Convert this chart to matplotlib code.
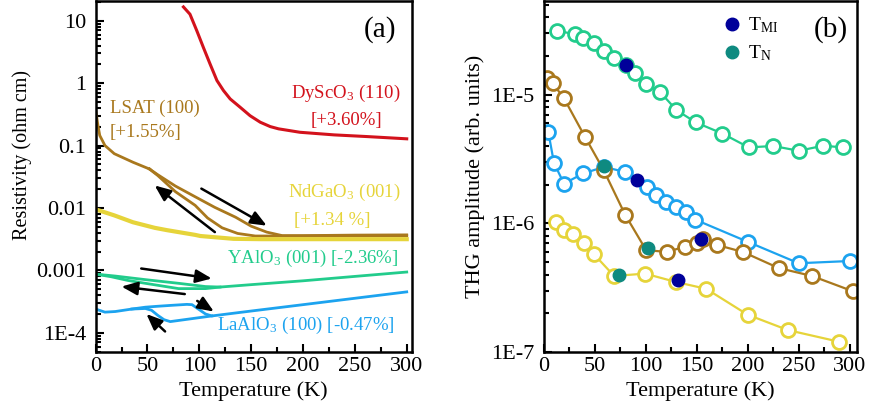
import numpy as np
import matplotlib
matplotlib.use("Agg")
import matplotlib.pyplot as plt

plt.rcParams['font.family'] = ['Liberation Serif', 'DejaVu Serif']
plt.rcParams['mathtext.fontset'] = 'stix'
plt.rcParams['font.size'] = 16

# ---------------- panel (a): resistivity vs temperature ----------------
dysco_T = [84.7, 91, 97.6, 104, 110.4, 117, 123.3, 129.8, 139.4, 149, 158.8, 168.4, 176.4, 197, 230, 262, 300]
dysco_rho = [16.6, 12.7, 6.9, 3.7, 2.02, 1.10, 0.76, 0.557, 0.41, 0.30, 0.236, 0.201, 0.185,
             0.163, 0.148, 0.139, 0.128]

lsat_T_low = [0, 2, 4, 9, 18, 36, 52]
lsat_rho_low = [0.38, 0.224, 0.145, 0.1, 0.074, 0.054, 0.042]
lsat_T_warm = [52, 60, 77, 96, 115, 135, 150, 165, 180, 200, 250, 300]
lsat_rho_warm = [0.042, 0.034, 0.0224, 0.0151, 0.0102, 0.0071, 0.0051, 0.0041, 0.0036, 0.0036, 0.00367, 0.0037]
lsat_T_cool = [52, 60, 77, 96, 108, 122, 137, 154, 180, 300]
lsat_rho_cool = [0.042, 0.033, 0.0182, 0.011, 0.0069, 0.0048, 0.0039, 0.00355, 0.00355, 0.0036]

ndgao_T = [0, 18, 36, 57, 69, 96, 101, 133, 160, 200, 300]
ndgao_rho = [0.0095, 0.0076, 0.0059, 0.0048, 0.0044, 0.0037, 0.00355, 0.0032, 0.00316, 0.00316, 0.00316]

yalo_T_warm = [0, 19, 48, 80, 106, 120, 150, 200, 250, 300]
yalo_rho_warm = [8.7e-4, 8.1e-4, 7.1e-4, 6.2e-4, 5.5e-4, 5.4e-4, 5.9e-4, 6.8e-4, 8.0e-4, 9.4e-4]
yalo_T_cool = [0, 15, 31, 48, 80, 106, 120]
yalo_rho_cool = [8.7e-4, 7.9e-4, 6.9e-4, 6.2e-4, 5.1e-4, 5.1e-4, 5.4e-4]

laalo_T_warm = [0, 9, 19, 35, 48, 60, 73, 88, 93, 100, 106, 112, 150, 200, 250, 300]
laalo_rho_warm = [2.4e-4, 2.14e-4, 2.19e-4, 2.4e-4, 2.57e-4, 2.66e-4, 2.75e-4, 2.85e-4, 2.82e-4,
                  2.34e-4, 2.0e-4, 1.86e-4, 2.23e-4, 2.82e-4, 3.57e-4, 4.52e-4]
laalo_T_cool = [35, 48, 54, 60, 66, 72, 112]
laalo_rho_cool = [2.4e-4, 2.45e-4, 2.29e-4, 1.9e-4, 1.62e-4, 1.51e-4, 1.86e-4]

# ---------------- panel (b): THG amplitude ----------------
g_T = [13, 30.5, 38.7, 49, 59, 68.8, 80, 89.4, 100, 114, 130, 149, 175, 201, 225, 250, 274, 293.5]
g_A = [3.16e-5, 2.95e-5, 2.75e-5, 2.51e-5, 2.19e-5, 1.93e-5, 1.70e-5, 1.48e-5, 1.21e-5, 1.05e-5,
       7.6e-6, 6.1e-6, 5.0e-6, 3.9e-6, 4.0e-6, 3.67e-6, 4.02e-6, 3.9e-6]
br_T = [3.3, 8.5, 19.6, 40.3, 58.5, 79.6, 100.2, 120.5, 138.5, 150, 156.5, 169.7, 195.2, 230.2, 263, 303]
br_A = [1.35e-5, 1.23e-5, 9.4e-6, 4.7e-6, 2.6e-6, 1.17e-6, 6.2e-7, 6.0e-7, 6.6e-7, 7.1e-7, 7.6e-7,
        6.8e-7, 6.0e-7, 4.5e-7, 3.9e-7, 2.97e-7]
bl_T = [4.3, 9.8, 19.6, 38.7, 59, 79.6, 100.9, 110, 120, 129.7, 139, 148.4, 199.8, 249.9, 300]
bl_A = [5.1e-6, 2.95e-6, 2.04e-6, 2.45e-6, 2.75e-6, 2.51e-6, 1.93e-6, 1.67e-6, 1.46e-6, 1.35e-6,
        1.23e-6, 1.07e-6, 7.2e-7, 4.9e-7, 5.1e-7]
y_T = [11.8, 19.7, 28.8, 39.3, 49.1, 68.8, 99.2, 129.7, 159.2, 199.8, 239.4, 289.9]
y_A = [1.02e-6, 8.9e-7, 8.3e-7, 7.0e-7, 5.75e-7, 3.9e-7, 4.07e-7, 3.5e-7, 3.1e-7, 1.95e-7, 1.48e-7, 1.2e-7]

tmi_T = [80, 91.7, 154, 131.3]
tmi_A = [1.70e-5, 2.19e-6, 7.6e-7, 3.6e-7]
tn_T = [59, 102.5, 73.7]
tn_A = [2.78e-6, 6.45e-7, 4.0e-7]

c_red = '#d3121c'
c_brown = '#a9781d'
c_yellow = '#e6d43a'
c_green = '#22cc8c'
c_blue = '#1ca3ef'
c_tmi = '#00009a'
c_tn = '#0e8a80'

fig = plt.figure(figsize=(8.69, 4.13), dpi=100)
ax1 = fig.add_axes([0.110, 0.1477, 0.364, 0.850])
ax2 = fig.add_axes([0.626, 0.1477, 0.360, 0.850])

lw = 2.0
ax1.plot(dysco_T, dysco_rho, color=c_red, lw=2.2)
ax1.plot(lsat_T_low, lsat_rho_low, color=c_brown, lw=lw)
ax1.plot(lsat_T_warm, lsat_rho_warm, color=c_brown, lw=lw)
ax1.plot(lsat_T_cool, lsat_rho_cool, color=c_brown, lw=lw)
ax1.plot(ndgao_T, ndgao_rho, color=c_yellow, lw=3)
ax1.plot(yalo_T_warm, yalo_rho_warm, color=c_green, lw=lw)
ax1.plot(yalo_T_cool, yalo_rho_cool, color=c_green, lw=lw)
ax1.plot(laalo_T_warm, laalo_rho_warm, color=c_blue, lw=lw)
ax1.plot(laalo_T_cool, laalo_rho_cool, color=c_blue, lw=lw)

arrows = [((115, 0.0041), (57, 0.0229)),
          ((102, 0.0204), (165, 0.0052)),
          ((44, 0.00107), (112, 0.00074)),
          ((86, 0.000417), (25, 0.00055)),
          ((98, 0.000324), (114, 0.000219)),
          ((67, 0.000105), (49, 0.0002))]
for tail, head in arrows:
    ax1.annotate('', xy=head, xytext=tail,
                 arrowprops=dict(arrowstyle='-|>,head_length=0.6,head_width=0.25', color='black', lw=1.8,
                                 shrinkA=0, shrinkB=0))

ax1.set_yscale('log')
ax1.set_xlim(0, 305)
ax1.set_ylim(4.92e-5, 20.7)
ax1.set_yticks([10, 1, 0.1, 0.01, 0.001, 1e-4])
ax1.set_yticklabels(['10', '1', '0.1', '0.01', '0.001', '1E-4'])
ax1.set_xticks([0, 50, 100, 150, 200, 250, 300])
ax1.set_xticks(np.arange(25, 305, 50), minor=True)
ax1.set_xlabel('Temperature (K)')
ax1.set_ylabel('Resistivity (ohm cm)', fontsize=14.5)
ax1.yaxis.set_label_coords(-0.20, 0.56)

fs = 13.5
ax1.text(241.5, 0.68, r'DyScO$_\mathregular{3}$ (110)', color=c_red, fontsize=fs, ha='center', va='center')
ax1.text(241.5, 0.25, '[+3.60%]', color=c_red, fontsize=fs, ha='center', va='center')
ax1.text(14, 0.39, 'LSAT (100)', color=c_brown, fontsize=fs, ha='left', va='center')
ax1.text(14, 0.16, '[+1.55%]', color=c_brown, fontsize=fs, ha='left', va='center')
ax1.text(186, 0.0178, r'NdGaO$_\mathregular{3}$ (001)', color=c_yellow, fontsize=fs, ha='left', va='center')
ax1.text(191, 0.0063, '[+1.34 %]', color=c_yellow, fontsize=fs, ha='left', va='center')
ax1.text(127, 1.56e-3, r'YAlO$_\mathregular{3}$ (001) [-2.36%]', color=c_green, fontsize=fs, ha='left', va='center')
ax1.text(117, 1.29e-4, r'LaAlO$_\mathregular{3}$ (100) [-0.47%]', color=c_blue, fontsize=fs, ha='left', va='center')
ax1.text(0.95, 0.92, '(a)', transform=ax1.transAxes, fontsize=21, ha='right', va='center')

# panel (b)
mk = dict(marker='o', ms=10, mfc='white', mew=2, lw=1.6)
ax2.plot(g_T, g_A, color=c_green, mec=c_green, **mk)
ax2.plot(bl_T, bl_A, color=c_blue, mec=c_blue, **mk)
ax2.plot(br_T, br_A, color=c_brown, mec=c_brown, **mk)
ax2.plot(y_T, y_A, color=c_yellow, mec=c_yellow, **mk)
ax2.plot(tmi_T, tmi_A, 'o', color=c_tmi, ms=9, ls='none', label=r'T$_\mathregular{MI}$')
ax2.plot(tn_T, tn_A, 'o', color=c_tn, ms=9, ls='none', label=r'T$_\mathregular{N}$')

ax2.set_yscale('log')
ax2.set_xlim(0, 307)
ax2.set_ylim(1e-7, 5.37e-5)
ax2.set_yticks([1e-5, 1e-6, 1e-7])
ax2.set_yticklabels(['1E-5', '1E-6', '1E-7'])
ax2.set_xticks([0, 50, 100, 150, 200, 250, 300])
ax2.set_xticks(np.arange(25, 305, 50), minor=True)
ax2.set_xlabel('Temperature (K)')
ax2.set_ylabel('THG amplitude (arb. units)')
ax2.legend(loc='upper left', bbox_to_anchor=(0.508, 1.008), frameon=False, fontsize=14,
           handletextpad=0.2, labelspacing=0.42, handlelength=1.2)
ax2.text(0.97, 0.92, '(b)', transform=ax2.transAxes, fontsize=21, ha='right', va='center')

for ax in (ax1, ax2):
    for s in ax.spines.values():
        s.set_linewidth(1.8)
    ax.tick_params(which='both', direction='in', top=False, right=False, width=1.5)
    ax.tick_params(which='major', length=6)
    ax.tick_params(which='minor', length=3.5)
    ax.tick_params(axis='y', which='major', pad=7)

fig.savefig('out.png', dpi=100)
